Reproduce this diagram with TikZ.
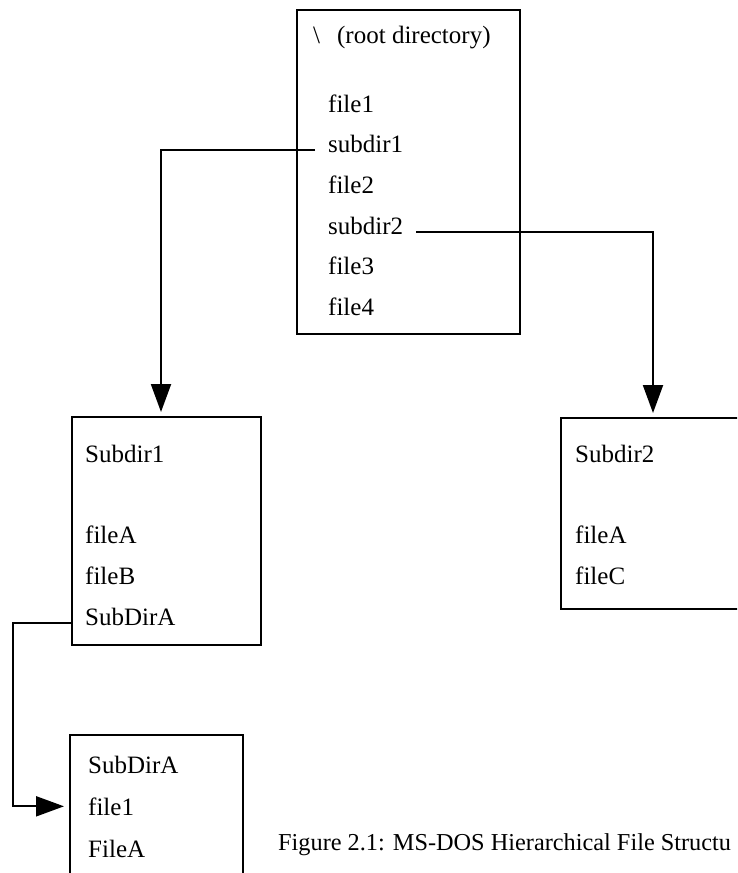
\documentclass[tikz,border=0pt]{standalone}
\usepackage{fontspec}
\setmainfont{Liberation Serif}
\usetikzlibrary{arrows.meta}

\begin{document}
\begin{tikzpicture}[x=1pt,y=-1pt]
  \tikzset{BoxStyle/.style={draw,line width=2pt,inner sep=0pt},
    EntryStyle/.style={anchor=base west,inner xsep=13pt,inner ysep=0pt,
      font=\fontsize{25}{30}\selectfont},
    LinkStyle/.style={line width=2pt,-{Triangle[length=28pt,width=20pt]}}
  }
  \useasboundingbox (0,0) rectangle (737,873);
  \clip (0,0) rectangle (737,873);
  % boxes
  \node[BoxStyle,minimum width=223pt,minimum height=324pt] (root) at (408.5,172) {};
  \node[BoxStyle,minimum width=189pt,minimum height=228pt] (sub1) at (166.5,531) {};
  \node[BoxStyle,minimum width=184pt,minimum height=191pt] (sub2) at (653,513.5) {};
  \node[BoxStyle,minimum width=173pt,minimum height=160pt] (subA) at (156.5,815) {};
  % entries
  \node[EntryStyle] (r-0) at (300,43) {\textbackslash\hspace{17pt}(root directory)};
  \foreach \name [count=\i] in {file1,subdir1,file2,subdir2,file3,file4}
    \node[EntryStyle] (r-\i) at (315,{71.3+40.7*\i}) {\name};
  \foreach \name/\y [count=\i] in {Subdir1/462,fileA/543,fileB/584,SubDirA/625}
    \node[EntryStyle] (s1-\i) at (72,\y) {\name};
  \foreach \name/\y [count=\i] in {Subdir2/462,fileA/543,fileC/584}
    \node[EntryStyle] (s2-\i) at (562,\y) {\name};
  \foreach \name/\y [count=\i] in {SubDirA/773,file1/815,FileA/857}
    \node[EntryStyle] (a-\i) at (75,\y) {\name};
  \node[EntryStyle,inner sep=0pt,font=\fontsize{24.3}{29}\selectfont] (caption) at (278,850)
    {Figure 2.1: MS-DOS Hierarchical File Structu};
  % links
  \draw[LinkStyle,shorten >=4pt] (r-2.mid west) -| ([xshift=-5.5pt]sub1.north);
  \draw[LinkStyle,shorten >=4pt] (r-4.mid east) -| (sub2.north);
  \draw[LinkStyle] (s1-4.mid west) -- ++(-59,0) |- ([xshift=-11pt]a-2.west);
\end{tikzpicture}
\end{document}
